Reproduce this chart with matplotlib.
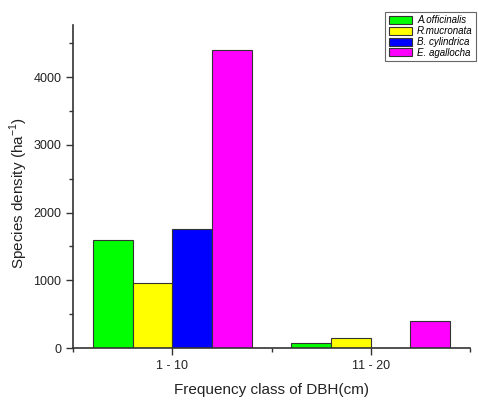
import numpy as np
import matplotlib.pyplot as plt
from matplotlib.ticker import MultipleLocator

plt.rcParams['font.family'] = ['Liberation Sans', 'DejaVu Sans']

classes = ['1 - 10', '11 - 20']
species = ['A.officinalis', 'R.mucronata', 'B. cylindrica', 'E. agallocha']
a_officinalis = [1600, 70]
r_mucronata = [960, 150]
b_cylindrica = [1760, 0]
e_agallocha = [4400, 400]
colors = ['#00ff00', '#ffff00', '#0000ff', '#ff00ff']

series = [a_officinalis, r_mucronata, b_cylindrica, e_agallocha]

fig = plt.figure(figsize=(4.78, 4.01), dpi=100)
ax = fig.add_axes([0.153, 0.132, 0.830, 0.806])

x = np.arange(1, len(classes) + 1)
width = 0.2
for i, (vals, name) in enumerate(zip(series, species)):
    ax.bar(x + (i - 1.5) * width, vals, width, color=colors[i],
           edgecolor='#333333', linewidth=0.8, label=name)

ax.set_xlim(0.5, 2.5)
ax.set_ylim(0, 4770)
ax.set_xticks(x)
ax.set_xticklabels(classes)
ax.xaxis.set_minor_locator(MultipleLocator(0.5))
ax.yaxis.set_major_locator(MultipleLocator(1000))
ax.yaxis.set_minor_locator(MultipleLocator(500))
ax.tick_params(which='major', direction='out', length=5, width=1, labelsize=9,
               color='#333333', labelcolor='#222222')
ax.tick_params(which='minor', direction='out', length=3, width=1, color='#333333')

for s in ['top', 'right']:
    ax.spines[s].set_visible(False)
for s in ['left', 'bottom']:
    ax.spines[s].set_color('#333333')
    ax.spines[s].set_linewidth(1.2)

ax.set_xlabel('Frequency class of DBH(cm)', fontsize=11, labelpad=8, color='#222222')
ax.set_ylabel(r'Species density (ha$^{\mathregular{-1}}$)', fontsize=11, color='#222222')
ax.yaxis.set_label_coords(-0.108, 0.48)

leg = fig.legend(loc='upper right', bbox_to_anchor=(0.996, 0.97),
                 prop={'style': 'italic', 'size': 7}, fancybox=False,
                 edgecolor='#666666', framealpha=1, handlelength=2.4,
                 handleheight=0.9, labelspacing=0.08, borderpad=0.35,
                 handletextpad=0.5, borderaxespad=0)
leg.get_frame().set_linewidth(0.8)

fig.savefig('out.png', dpi=100)
